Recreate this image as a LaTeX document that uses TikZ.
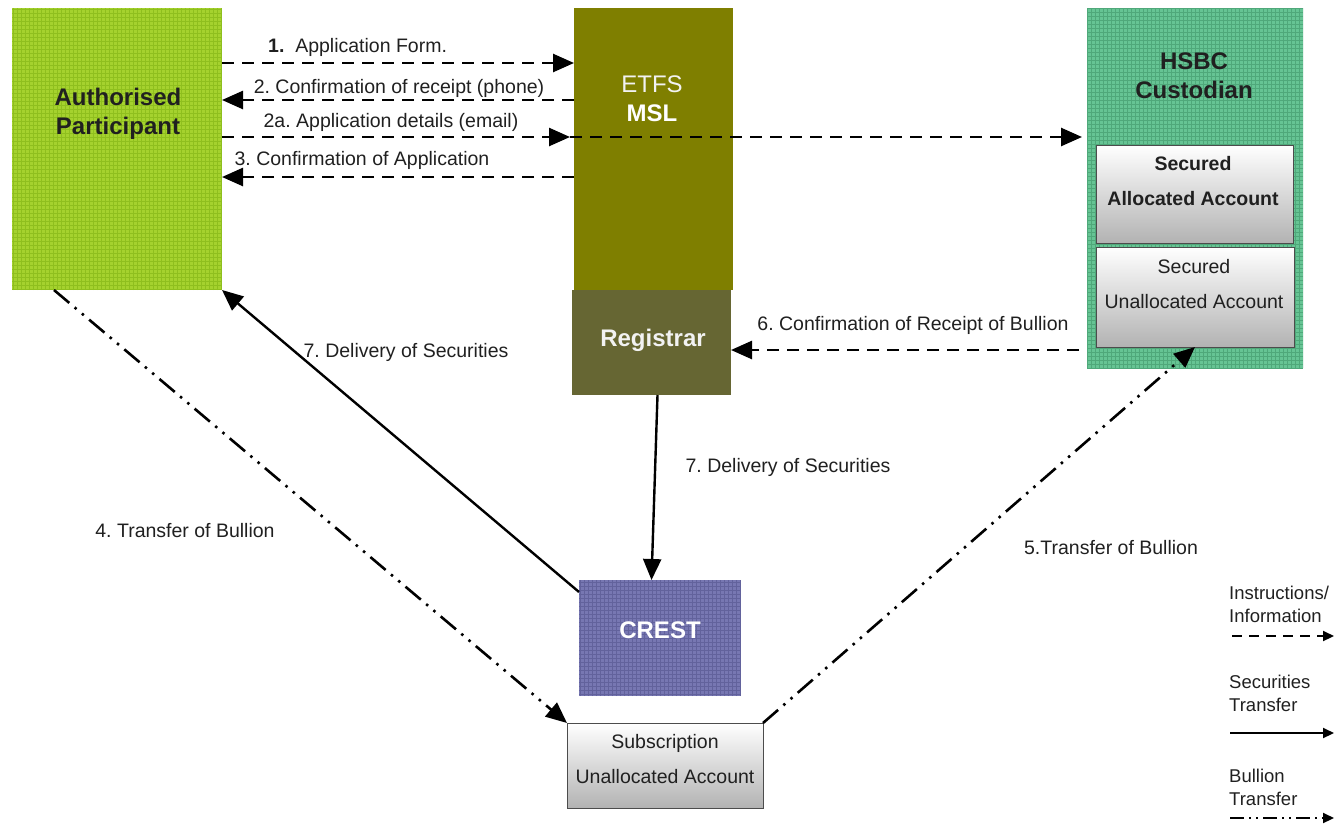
\documentclass[tikz,border=0pt]{standalone}
\usepackage{fontspec}
\setmainfont{Liberation Sans}
\usetikzlibrary{arrows.meta,calc}
\frenchspacing
\definecolor{apgreen}{HTML}{A5D22E}
\definecolor{apgrid}{HTML}{8FBF1E}
\definecolor{olive1}{HTML}{7F7F00}
\definecolor{olive2}{HTML}{666633}
\definecolor{hsbcg}{HTML}{66C494}
\definecolor{hsbcgrid}{HTML}{4FA87A}
\definecolor{crestc}{HTML}{7777B2}
\definecolor{crestgrid}{HTML}{62629C}
\definecolor{txt}{HTML}{202020}
\tikzset{
  gridbox/.style={draw=none, fill=#1, inner sep=0pt, outer sep=0pt},
  gridlines/.style={path picture={\draw[#1, line width=0.6pt, step=4pt]
      (path picture bounding box.south west) grid (path picture bounding box.north east);}},
  acct/.style={draw=black!70, line width=1pt, top color=white, bottom color=black!30, inner sep=0pt, outer sep=0pt},
  lbl/.style={font=\fontsize{19.5}{22}\selectfont, text=txt, inner sep=0pt},
  ttl/.style={font=\fontsize{24}{29}\selectfont\bfseries, align=center, inner sep=0pt},
  acctxt/.style={font=\fontsize{19.5}{35}\selectfont, text=txt, align=center, inner sep=0pt},
  info/.style={line width=2.6pt, dash pattern=on 12pt off 8pt, -{Triangle[length=21pt,width=18pt]}},
  sec/.style={line width=2.4pt, -{Triangle[length=21pt,width=18pt]}},
  bul/.style={line width=2.6pt, dash pattern=on 20pt off 7pt on 2.5pt off 7pt on 2.5pt off 7pt, -{Triangle[length=21pt,width=18pt]}},
  leginfo/.style={line width=2pt, dash pattern=on 10pt off 7pt, -{Triangle[length=11pt,width=10pt]}},
  legsec/.style={line width=2pt, -{Triangle[length=11pt,width=10pt]}},
  legbul/.style={line width=2pt, dash pattern=on 14pt off 5pt on 2pt off 5pt on 2pt off 5pt, -{Triangle[length=11pt,width=10pt]}},
}
\begin{document}
\begin{tikzpicture}[x=1pt,y=-1pt]
\useasboundingbox (0,0) rectangle (1337,825);
% boxes
\node[gridbox=apgreen, gridlines=apgrid, minimum width=210pt, minimum height=282pt] (ap) at (117,149) {};
\node[gridbox=olive1, minimum width=159pt, minimum height=282pt] (msl) at (653.5,149) {};
\node[gridbox=olive2, minimum width=159pt, minimum height=105pt] (reg) at (651.5,342.5) {};
\node[gridbox=hsbcg, gridlines=hsbcgrid, minimum width=216pt, minimum height=360pt] (hsbc) at (1195,188) {};
\node[acct, minimum width=197pt, minimum height=98pt] (sa) at (1194.5,194) {};
\node[acct, minimum width=198pt, minimum height=100pt] (su) at (1195,297) {};
\node[gridbox=crestc, gridlines=crestgrid, minimum width=162pt, minimum height=116pt] (crest) at (660,638) {};
\node[acct, minimum width=196pt, minimum height=85pt] (sub) at (665,765.5) {};
% titles
\node[ttl, text=txt] (apT) at (118,114) {Authorised\\Participant};
\node[ttl, align=center] (mslT) at (652,99) {\textmd{\color{black!5}ETFS}\\\color{white}MSL};
\node[ttl, text=white!95!black] (regT) at (653,340) {Registrar};
\node[ttl, text=txt] (hsbcT) at (1194,76) {HSBC\\Custodian};
\node[acctxt, font=\fontsize{19.5}{35}\selectfont\bfseries] (saT) at (1193,181) {Secured\\Allocated Account};
\node[acctxt] (suT) at (1194,284) {Secured\\Unallocated Account};
\node[ttl, text=white] (crestT) at (660,630) {CREST};
\node[acctxt] (subT) at (665,759) {Subscription\\Unallocated Account};
% helper rows
\coordinate (y1) at (0,63);
\coordinate (y2) at (0,100);
\coordinate (y2a) at (0,137);
\coordinate (y3) at (0,177);
\coordinate (y6) at (0,350);
% instruction arrows
\draw[info] (ap.east |- y1) -- (msl.west |- y1);
\draw[info] (msl.west |- y2) -- (ap.east |- y2);
\draw[info] (ap.east |- y2a) -- ($(msl.west |- y2a)+(-4,0)$);
\draw[info] ($(msl.west |- y2a)+(-4,0)$) -- ($(hsbc.west |- y2a)+(-5,0)$);
\draw[info] (msl.west |- y3) -- (ap.east |- y3);
\draw[info] ($(hsbc.west |- y6)+(-8,0)$) -- (reg.east |- y6);
% labels
\node[lbl, anchor=west] (l1) at (268,47) {\textbf{1.}\ \ Application Form.};
\node[lbl] (l2) at (399,88) {2. Confirmation of receipt (phone)};
\node[lbl] (l2a) at (391,122) {2a. Application details (email)};
\node[lbl] (l3) at (362,160) {3. Confirmation of Application};
\node[lbl] (l6) at (913,325) {6. Confirmation of Receipt of Bullion};
% securities
\draw[sec] ($(crest.north west)+(0,12)$) -- (ap.south east);
\draw[sec] ($(reg.south)+(6,0)$) -- (crest.north -| reg.south);
\node[lbl] (l7a) at (406,352) {7. Delivery of Securities};
\node[lbl] (l7b) at (788,467) {7. Delivery of Securities};
% bullion
\draw[bul] ($(ap.south west)!0.2!(ap.south east)$) -- (sub.north west);
\draw[bul] (sub.north east) -- (su.south);
\node[lbl] (l4) at (185,531) {4. Transfer of Bullion};
\node[lbl] (l5) at (1111,548) {5.Transfer of Bullion};
% legend
\node[lbl, anchor=west, align=left, font=\fontsize{18.5}{23}\selectfont] (lg1) at (1229,604) {Instructions/\\Information};
\node[lbl, anchor=west, align=left, font=\fontsize{18.5}{23}\selectfont] (lg2) at (1229,693) {Securities\\Transfer};
\node[lbl, anchor=west, align=left, font=\fontsize{18.5}{23}\selectfont] (lg3) at (1229,787) {Bullion\\Transfer};
\coordinate (g1a) at (1232,636); \coordinate (g1b) at (1334,636);
\coordinate (g2a) at (1230,733); \coordinate (g2b) at (1334,733);
\coordinate (g3a) at (1230,818); \coordinate (g3b) at (1334,818);
\draw[leginfo] (g1a) -- (g1b);
\draw[legsec] (g2a) -- (g2b);
\draw[legbul] (g3a) -- (g3b);
\end{tikzpicture}
\end{document}
